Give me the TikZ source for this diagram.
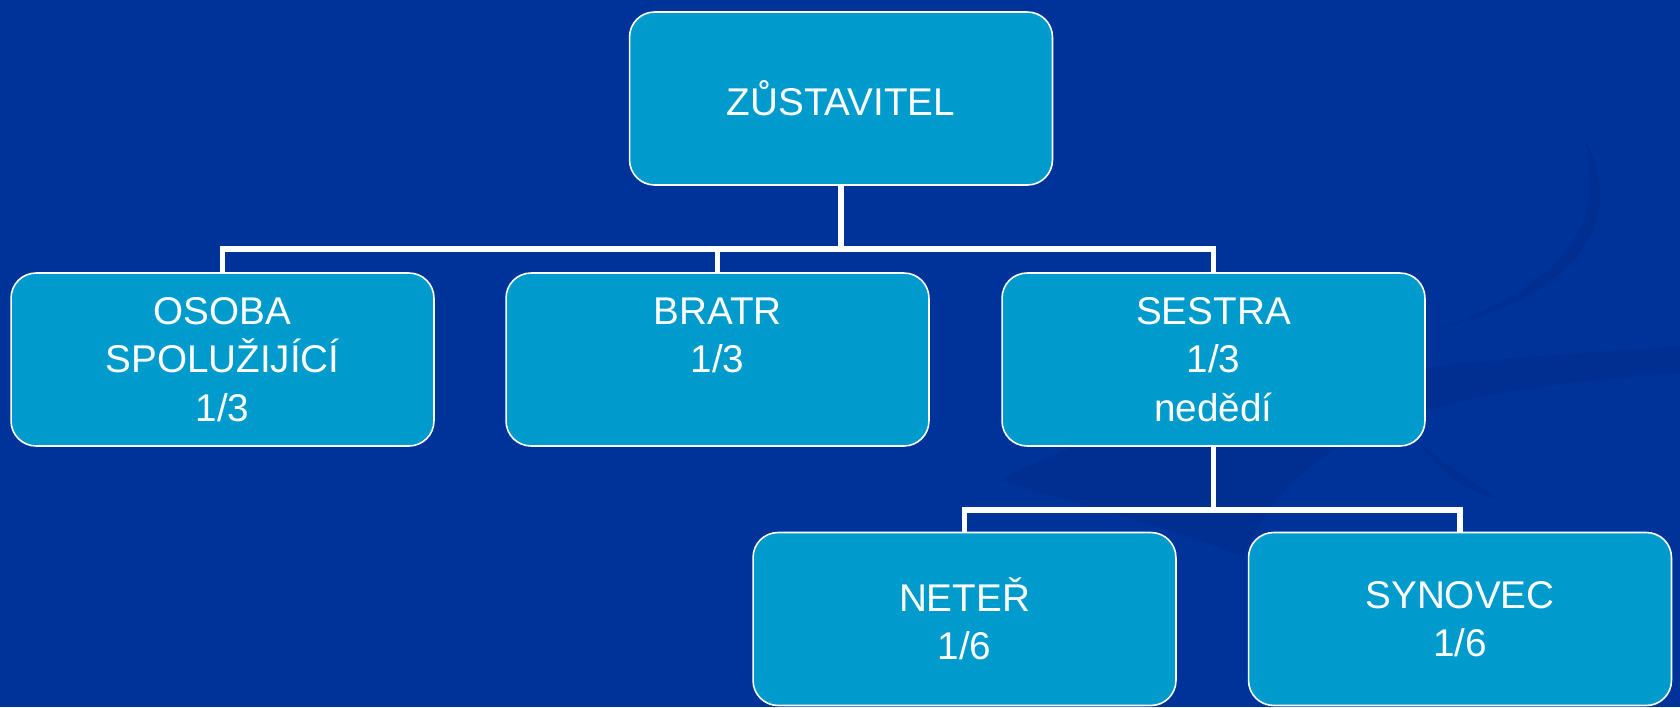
\documentclass[tikz,border=0pt]{standalone}
\usepackage{fontspec}
\setmainfont{Liberation Sans}
\definecolor{bg}{RGB}{0,51,153}
\definecolor{swirl}{RGB}{0,47,145}
\definecolor{boxblue}{RGB}{0,155,205}
\tikzset{
  box/.style={rectangle, rounded corners=0.5cm, draw=white, line width=0.9pt,
    fill=boxblue, minimum width=8.46cm, minimum height=3.46cm, align=center,
    text=white, font=\fontsize{22}{27.5}\selectfont, inner sep=0pt},
  link/.style={draw=white, line width=3.2pt}
}
\begin{document}
\begin{tikzpicture}[x=0.02cm,y=-0.02cm]
\fill[bg] (0,0) rectangle (1680,707);
\useasboundingbox (0,0) rectangle (1680,707);
% faint background swirls
\fill[swirl] (1585,140) .. controls (1620,200) and (1605,290) .. (1433,330)
  .. controls (1570,285) and (1605,220) .. (1585,140) -- cycle;
\fill[swirl] (1000,480) .. controls (1150,400) and (1400,360) .. (1680,347)
  -- (1680,373) .. controls (1450,390) and (1300,420) .. (1243,557)
  .. controls (1150,520) and (1060,500) .. (1000,480) -- cycle;
\fill[swirl] (1416,440) .. controls (1440,470) and (1460,490) .. (1500,500)
  .. controls (1470,480) and (1440,460) .. (1416,440) -- cycle;
% nodes
\node[box] (top) at (841,98.5) {ZŮSTAVITEL};
\node[box] (osoba) at (222.5,359.5) {OSOBA\\SPOLUŽIJÍCÍ\\1/3};
\node[box] (bratr) at (717.5,359.5) {BRATR\\1/3\\\mbox{}};
\node[box] (sestra) at (1213.5,359.5) {SESTRA\\1/3\\nedědí};
\node[box] (neter) at (964.5,619) {NETEŘ\\1/6};
\node[box] (synovec) at (1460,619) {SYNOVEC\\1/6};
% connectors
\coordinate (j1) at (841,249);
\coordinate (j2) at (1213.5,510);
\draw[link] (top.south) -- (j1);
\draw[link] (j1) -| (osoba.north);
\draw[link] (j1) -| (bratr.north);
\draw[link] (j1) -| (sestra.north);
\draw[link] (sestra.south) -- (j2);
\draw[link] (j2) -| (neter.north);
\draw[link] (j2) -| (synovec.north);
\end{tikzpicture}
\end{document}
